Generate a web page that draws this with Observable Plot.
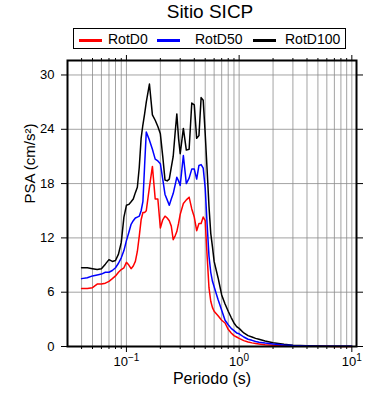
<!DOCTYPE html>
<html>
<head>
<meta charset="utf-8">
<script src="https://cdn.jsdelivr.net/npm/d3@7"></script>
<script src="https://cdn.jsdelivr.net/npm/@observablehq/plot@0.6"></script>
<style>
  body { margin: 0; background: #fff; font-family: "Liberation Sans", Arial, Helvetica, sans-serif; }
  #wrap { position: relative; width: 390px; height: 400px; overflow: hidden; }
  #title { position: absolute; left: 0; width: 420px; top: 1px; text-align: center; font-size: 19px; color: #000; }
  #legend { position: absolute; left: 73px; top: 28px; width: 271px; height: 19px; border: 1.6px solid #000; font-size: 14px; }
  .sw { position: absolute; top: 10px; height: 3px; width: 23px; }
  .lt { position: absolute; top: 1px; line-height: 18px; }
  #chart { position: absolute; left: 0; top: 50px; }
</style>
</head>
<body>
<div id="wrap">
  <div id="title">Sitio SICP</div>
  <div id="legend"></div>
  <div id="chart"></div>
</div>
<script>
// Period (s)
const periods = [0.04, 0.045, 0.05, 0.055, 0.06, 0.065, 0.07, 0.075, 0.08, 0.085, 0.09, 0.095,
  0.1, 0.105, 0.11, 0.115, 0.12, 0.125, 0.13, 0.135, 0.14, 0.145, 0.15, 0.16, 0.17, 0.18, 0.19,
  0.2, 0.21, 0.22, 0.23, 0.24, 0.25, 0.26, 0.27, 0.28, 0.29, 0.3, 0.32, 0.34, 0.36, 0.38,
  0.4, 0.42, 0.44, 0.46, 0.48, 0.5, 0.52, 0.54, 0.56, 0.58, 0.6, 0.65, 0.7, 0.75, 0.8, 0.85,
  0.9, 0.95, 1.0, 1.1, 1.2, 1.3, 1.4, 1.5, 1.7, 2.0, 2.5, 3, 4, 5, 6, 7, 8, 10];

// PSA (cm/s²)
const rotD0 = [6.4, 6.4, 6.5, 6.9, 6.9, 7.0, 7.2, 7.5, 7.8, 8.2, 8.5, 8.7,
  9.3, 9.0, 8.6, 8.9, 9.4, 10.5, 12.2, 14.0, 14.8, 14.8, 15.0, 17.6, 19.9, 16.3, 16.3,
  13.1, 14.0, 14.4, 14.2, 13.9, 13.3, 11.8, 12.2, 12.7, 13.6, 14.6, 15.8, 16.2, 16.5, 15.2,
  14.3, 12.8, 13.6, 13.6, 14.3, 13.9, 10.0, 6.5, 5.0, 4.3, 3.9, 3.4, 2.9, 2.6, 1.9, 1.5,
  1.2, 1.05, 0.9, 0.65, 0.5, 0.4, 0.33, 0.28, 0.2, 0.14, 0.08, 0.05, 0.03, 0.02, 0.015, 0.012, 0.01, 0.008];

const rotD50 = [7.5, 7.6, 7.8, 7.9, 8.0, 8.2, 8.2, 8.4, 8.7, 9.2, 9.8, 10.6,
  11.7, 12.6, 13.5, 13.9, 14.2, 14.3, 14.4, 15.0, 16.0, 20.0, 23.7, 22.8, 21.8, 20.7, 20.5,
  20.2, 18.5, 16.8, 16.2, 15.6, 16.3, 16.9, 17.8, 18.7, 18.3, 17.8, 21.1, 18.0, 18.6, 19.6,
  19.6, 18.5, 20.0, 20.1, 19.7, 17.5, 13.5, 10.0, 8.2, 7.2, 6.6, 5.2, 4.0, 2.9, 2.4, 2.0,
  1.75, 1.5, 1.4, 1.05, 0.8, 0.68, 0.55, 0.48, 0.38, 0.27, 0.16, 0.1, 0.06, 0.04, 0.03, 0.025, 0.02, 0.015];

const rotD100 = [8.7, 8.7, 8.6, 8.5, 8.6, 9.1, 9.6, 9.4, 9.5, 10.2, 11.5, 14.3,
  15.6, 15.7, 16.0, 16.3, 17.0, 17.6, 19.8, 23.0, 24.5, 25.7, 27.0, 29.0, 25.6, 25.0, 24.3,
  23.5, 21.0, 18.4, 18.3, 18.5, 19.8, 21.0, 23.5, 25.7, 23.0, 21.3, 24.1, 21.7, 21.8, 26.9,
  26.7, 23.0, 23.3, 27.5, 27.2, 23.5, 19.5, 15.5, 12.5, 11.0, 9.4, 7.6, 5.7, 4.7, 3.9, 3.2,
  2.6, 2.2, 2.0, 1.5, 1.2, 1.05, 0.9, 0.8, 0.6, 0.42, 0.25, 0.15, 0.08, 0.05, 0.04, 0.03, 0.025, 0.02];

const seriesNames = ["RotD0", "RotD50", "RotD100"];
const seriesColors = ["#ff0000", "#0000ff", "#000000"];

const yTicks = [0, 6, 12, 18, 24, 30];
const xMajor = [0.1, 1, 10];
const xMajorExp = ["\u22121", "0", "1"];
const xMinor = [0.04, 0.05, 0.06, 0.07, 0.08, 0.09, 0.2, 0.3, 0.4, 0.5, 0.6, 0.7, 0.8, 0.9,
  2, 3, 4, 5, 6, 7, 8, 9];
const xGrid = xMinor.concat(xMajor);

const rows = [];
[rotD0, rotD50, rotD100].forEach((vals, s) => {
  vals.forEach((v, i) => rows.push({series: seriesNames[s], period: periods[i], psa: v}));
});

// legend (HTML)
const legend = document.getElementById("legend");
const swX = [5, 83, 179];
const txX = [34, 121, 211];
seriesNames.forEach((n, i) => {
  const sw = document.createElement("div");
  sw.className = "sw"; sw.style.left = swX[i] + "px"; sw.style.background = seriesColors[i];
  legend.appendChild(sw);
  const t = document.createElement("div");
  t.className = "lt"; t.style.left = txX[i] + "px"; t.textContent = n;
  legend.appendChild(t);
});

const font = "'Liberation Sans', Arial, Helvetica, sans-serif";
const order = ["RotD0", "RotD100", "RotD50"];

const chart = Plot.plot({
  width: 390,
  height: 350,
  marginTop: 10,
  marginLeft: 67,
  marginRight: 34,
  marginBottom: 54,
  style: {fontFamily: font, fontSize: "13px", color: "#000", background: "#fff"},
  x: {type: "log", domain: [0.03, 11]},
  y: {domain: [0, 31.6]},
  color: {domain: seriesNames, range: seriesColors},
  marks: [
    Plot.gridX(xGrid, {stroke: "#8c8c8c", strokeOpacity: 1, strokeWidth: 0.8}),
    Plot.gridY(yTicks.slice(1), {stroke: "#8c8c8c", strokeOpacity: 1, strokeWidth: 0.8}),
    ...order.map(n => Plot.line(rows.filter(d => d.series === n), {
      x: "period", y: "psa", stroke: "series", strokeWidth: 1.5
    })),
    Plot.axisY(yTicks, {anchor: "left", tickSize: 6, tickPadding: 7, fontSize: 13, label: null}),
    Plot.axisY(yTicks, {anchor: "right", tickSize: 6, fill: "none", label: null}),
    Plot.axisX(xMajor, {anchor: "bottom", tickSize: 6, tickPadding: 4, fontSize: 13, label: null,
      tickFormat: d => "10^" + xMajorExp[xMajor.indexOf(d)]}),
    Plot.axisX(xMinor, {anchor: "bottom", tickSize: 3, fill: "none", label: null}),
    Plot.axisX(xMajor, {anchor: "top", tickSize: 6, fill: "none", label: null}),
    Plot.axisX(xMinor, {anchor: "top", tickSize: 3, fill: "none", label: null}),
    Plot.frame({stroke: "#000", strokeWidth: 2}),
    Plot.text(["Periodo (s)"], {frameAnchor: "bottom", dy: 37, fontSize: 16, fill: "#000"}),
    Plot.text(["PSA (cm/s\u00B2)"], {frameAnchor: "left", dx: -37, rotate: -90, fontSize: 15, fill: "#000"})
  ]
});

// render the powers of ten with raised exponents
d3.select(chart).selectAll("text").each(function () {
  const s = this.textContent;
  if (s.startsWith("10^")) {
    const exp = s.slice(3);
    const el = d3.select(this);
    el.text(null);
    el.append("tspan").text("10");
    el.append("tspan").attr("dy", "-0.45em").attr("font-size", "10px").text(exp);
  }
});
document.getElementById("chart").appendChild(chart);
</script>
</body>
</html>
